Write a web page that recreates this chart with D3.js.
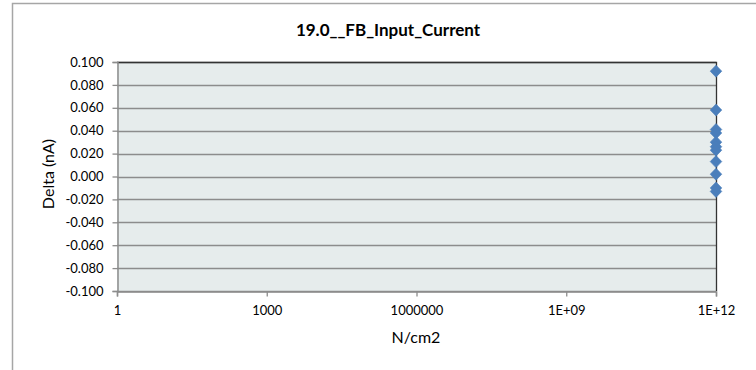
<!DOCTYPE html>
<html><head><meta charset="utf-8">
<script src="https://cdn.jsdelivr.net/npm/d3@7"></script>
<style>body{margin:0;background:#fff;}svg{display:block;font-family:Lato,"Open Sans",sans-serif;}</style>
</head><body>
<svg id="c" width="756" height="370"></svg>
<script>
const title = "19.0__FB_Input_Current";
const xLabel = "N/cm2";
const yLabel = "Delta (nA)";
const xValues = [1e12,1e12,1e12,1e12,1e12,1e12,1e12,1e12,1e12,1e12,1e12];
const yValues = [0.092,0.058,0.041,0.038,0.030,0.026,0.023,0.013,0.002,-0.010,-0.013];
const yTicks = [-0.1,-0.08,-0.06,-0.04,-0.02,0,0.02,0.04,0.06,0.08,0.1];
const xTicks = [1,1e3,1e6,1e9,1e12];
const xTickLabels = ["1","1000","1000000","1E+09","1E+12"];

const svg = d3.select("#c");
const m = {left:117, right:716, top:62, bottom:291};
const x = d3.scaleLog().domain([1,1e12]).range([m.left,m.right]);
const y = d3.scaleLinear().domain([-0.1,0.1]).range([m.bottom,m.top]);

// outer frame
svg.append("rect").attr("x",12.5).attr("y",3.5).attr("width",800).attr("height",400)
  .attr("fill","#fff").attr("stroke","#a6a6a6").attr("stroke-width",1.5);

// plot bg
svg.append("rect").attr("x",m.left).attr("y",m.top).attr("width",m.right-m.left).attr("height",m.bottom-m.top)
  .attr("fill","#e6ecec");

// gridlines
svg.append("g").selectAll("line").data(yTicks).join("line")
  .attr("x1",m.left).attr("x2",m.right)
  .attr("y1",d=>Math.round(y(d))+0.5).attr("y2",d=>Math.round(y(d))+0.5)
  .attr("stroke","#8c8c8c").attr("stroke-width",1.3);

// top and right border
svg.append("path").attr("d",`M${m.left},${m.top+0.5}H${m.right+0.5}V${m.bottom}`)
  .attr("fill","none").attr("stroke","#333").attr("stroke-width",1.3);

const fmt = d => d3.format(".3f")(d).replace("\u2212","-");
// y axis
const yAxis = d3.axisLeft(y).tickValues(yTicks).tickFormat(fmt).tickSize(5).tickPadding(9);
const gy = svg.append("g").attr("transform",`translate(${m.left+0.5},0)`).call(yAxis);
gy.select(".domain").attr("stroke","#8c8c8c").attr("stroke-width",1.5);
gy.selectAll(".tick line").attr("stroke","#8c8c8c").attr("stroke-width",1.3);
gy.selectAll("text").attr("font-size",13).attr("fill","#000").attr("font-family","Lato");

// x axis
const xAxis = d3.axisBottom(x).tickValues(xTicks).tickFormat((d,i)=>xTickLabels[i]).tickSize(5).tickPadding(9);
const gx = svg.append("g").attr("transform",`translate(0,${m.bottom+0.5})`).call(xAxis);
gx.select(".domain").attr("stroke","#8c8c8c").attr("stroke-width",1.5);
gx.selectAll(".tick line").attr("stroke","#8c8c8c").attr("stroke-width",1.3);
gx.selectAll("text").attr("font-size",13).attr("fill","#000").attr("font-family","Lato");

// points (Excel-style diamond)
const diamond = "M0,-6L5.8,0L0,6L-5.8,0Z";
svg.append("g").selectAll("path").data(yValues).join("path")
  .attr("transform",(d,i)=>`translate(${x(xValues[i])},${y(d)})`)
  .attr("d",diamond).attr("fill","#4a7ebb").attr("stroke","#4a7ebb").attr("stroke-width",0.6);

// title
svg.append("text").attr("x",388).attr("y",36).attr("text-anchor","middle")
  .attr("font-size",17).attr("font-weight","bold").text(title);
// x label
svg.append("text").attr("x",416).attr("y",343).attr("text-anchor","middle")
  .attr("font-size",16).text(xLabel);
// y label
svg.append("text").attr("transform","translate(54,174) rotate(-90)").attr("text-anchor","middle")
  .attr("font-size",16).text(yLabel);
</script>
</body></html>
